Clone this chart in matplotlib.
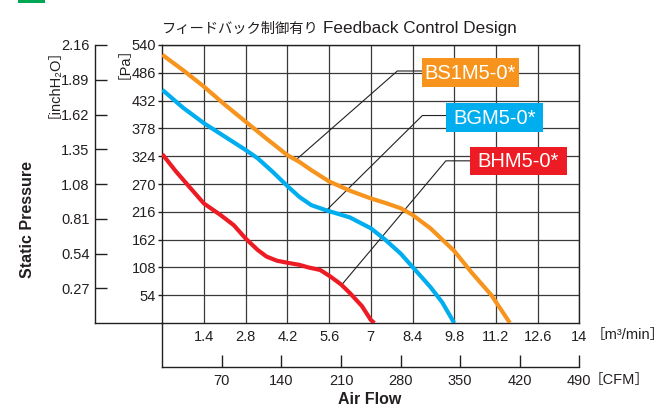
"""P-Q curves of the three fan models, feedback control design."""
import matplotlib
matplotlib.use("Agg")
import matplotlib.pyplot as plt
from matplotlib.patches import Rectangle

W, H = 667, 417
INK = "#231F20"

plt.rcParams["font.family"] = ["Liberation Sans", "Noto Sans CJK JP", "DejaVu Sans"]

# air flow [m3/min] vs static pressure [Pa]
bs1m5_flow = [0, 0.7, 1.4, 2.1, 2.8, 3.5, 4.2, 4.6, 5.0, 5.6, 6.3, 7.0, 7.5, 8.0, 8.4, 9.0, 9.8, 10.4, 11.05, 11.67]
bs1m5_pa = [521, 491, 459, 424, 391, 358, 326, 313, 297, 275, 257, 242, 233, 223, 210, 184, 140, 97, 54, 0]

bgm5_flow = [0, 0.7, 1.4, 2.1, 2.8, 3.2, 3.7, 4.2, 4.6, 5.0, 5.5, 6.3, 7.0, 7.5, 8.0, 8.4, 9.0, 9.4, 9.8]
bgm5_pa = [453, 418, 388, 362, 336, 320, 294, 266, 245, 229, 219, 205, 184, 161, 135, 109, 70, 40, 0]

bhm5_flow = [0, 0.45, 0.9, 1.4, 1.95, 2.4, 2.8, 3.2, 3.5, 3.85, 4.2, 4.6, 4.9, 5.3, 5.65, 6.0, 6.3, 6.7, 7.0, 7.12]
bhm5_pa = [328, 295, 265, 232, 210, 190, 164, 142, 129, 121, 117, 113, 108, 103, 90, 75, 58, 33, 6, 0]

models = ["BS1M5-0*", "BGM5-0*", "BHM5-0*"]
colors = ["#F7941D", "#00AEEF", "#ED1C24"]

pa_ticks = [54, 108, 162, 216, 270, 324, 378, 432, 486, 540]
inch_ticks = [0.27, 0.54, 0.81, 1.08, 1.35, 1.62, 1.89, 2.16]
flow_ticks = [1.4, 2.8, 4.2, 5.6, 7, 8.4, 9.8, 11.2, 12.6, 14]
flow_labels = ["1.4", "2.8", "4.2", "5.6", "7", "8.4", "9.8", "11.2", "12.6", "14"]
cfm_ticks = [70, 140, 210, 280, 350, 420, 490]


def fx(px):
    return px / W


def fy(py):
    return 1 - py / H


fig = plt.figure(figsize=(W / 100, H / 100), dpi=100)

L, R, T, B = 162.3, 579.3, 45, 323
ax = fig.add_axes([fx(L), fy(B), (R - L) / W, (B - T) / H])
ax.set_xlim(0, 14)
ax.set_ylim(0, 540)
ax.set_xticks(flow_ticks)
ax.set_xticklabels(flow_labels)
ax.set_yticks(pa_ticks)
ax.grid(True, color="#3a3a3a", linewidth=0.9, zorder=1)
ax.set_axisbelow(True)
ax.tick_params(axis="x", length=0, pad=5, labelsize=10.5, labelcolor=INK)
ax.tick_params(axis="y", direction="out", length=3, width=1, pad=1.5,
               labelsize=10.5, labelcolor=INK, color=INK)
for s in ax.spines.values():
    s.set_color(INK)
    s.set_linewidth(1)

flows = [bs1m5_flow, bgm5_flow, bhm5_flow]
pas = [bs1m5_pa, bgm5_pa, bhm5_pa]
for f, p, c in zip(flows, pas, colors):
    ax.plot(f, p, color=c, linewidth=3, solid_capstyle="butt",
            solid_joinstyle="round", zorder=3)

# leader lines: curve anchor -> elbow -> label box
leaders = [
    ([4.51, 7.89, 8.71], [318, 489.5, 489.5]),
    ([5.46, 8.73, 9.52], [216, 403, 403]),
    ([6.02, 9.52, 10.33], [74, 315, 315]),
]
boxes = [(8.71, 459, 11.97, 514), (9.52, 371.6, 12.77, 426.8), (10.33, 287.5, 13.58, 342.5)]
for (lx, ly), (x0, y0, x1, y1), name, c in zip(leaders, boxes, models, colors):
    ax.plot(lx, ly, color="#222222", linewidth=0.8, zorder=2)
    ax.add_patch(Rectangle((x0, y0), x1 - x0, y1 - y0, facecolor=c,
                           edgecolor="none", zorder=4, clip_on=False))
    ax.text((x0 + x1) / 2, (y0 + y1) / 2 - 2, name, color="white", fontsize=14.5,
            ha="center", va="center", zorder=5)

# inchH2O scale on the far left
ax_in = fig.add_axes([fx(95), fy(B), (L - 95) / W, (B - T) / H])
ax_in.set_ylim(0, 2.16)
ax_in.set_yticks(inch_ticks)
ax_in.set_xticks([])
ax_in.patch.set_visible(False)
for k in ("top", "right"):
    ax_in.spines[k].set_visible(False)
for k in ("left", "bottom"):
    ax_in.spines[k].set_color(INK)
    ax_in.spines[k].set_linewidth(1)
ax_in.tick_params(axis="y", direction="in", length=8.6, width=1, pad=4,
                  labelsize=10.5, labelcolor=INK, color=INK)

# CFM scale under the m3/min scale
ax_c = fig.add_axes([fx(L), fy(367), (R - L) / W, (367 - B) / H])
ax_c.set_xlim(0, 490)
ax_c.set_xticks(cfm_ticks)
ax_c.set_yticks([])
ax_c.patch.set_visible(False)
for k in ("top", "right"):
    ax_c.spines[k].set_visible(False)
for k in ("left", "bottom"):
    ax_c.spines[k].set_color(INK)
    ax_c.spines[k].set_linewidth(1)
ax_c.tick_params(axis="x", direction="in", length=8.6, width=1, pad=5,
                 labelsize=10.5, labelcolor=INK, color=INK)

# texts
fig.text(fx(161.7), fy(29), "フィードバック制御有り", fontsize=10.3, color=INK,
         ha="left", va="center")
fig.text(fx(323), fy(29), "Feedback Control Design", fontsize=12.3, color=INK,
         ha="left", va="center")
fig.text(fx(47), fy(76), "［inchH₂O］", rotation=90, fontsize=10.5, color=INK,
         ha="center", va="center")
fig.text(fx(117), fy(55), "［Pa］", rotation=90, fontsize=10.5, color=INK,
         ha="center", va="center")
fig.text(fx(28), fy(219), "Static Pressure", rotation=90, fontsize=11.5,
         fontweight="bold", color=INK, ha="center", va="center")
fig.text(fx(370), fy(400), "Air Flow", fontsize=11.5, fontweight="bold",
         color=INK, ha="center", va="center")
fig.text(fx(591), fy(335), "［m³/min］", fontsize=10.5, color=INK,
         ha="left", va="center")
fig.text(fx(589), fy(380), "［CFM］", fontsize=10.5, color=INK,
         ha="left", va="center")

# heading of the page, cut off at the top edge
fig.patches.append(Rectangle((fx(18), fy(2.7)), 27 / W, 2.7 / H, facecolor="#00A651",
                             edgecolor="none", transform=fig.transFigure, figure=fig))

fig.savefig("out.png", dpi=100)
